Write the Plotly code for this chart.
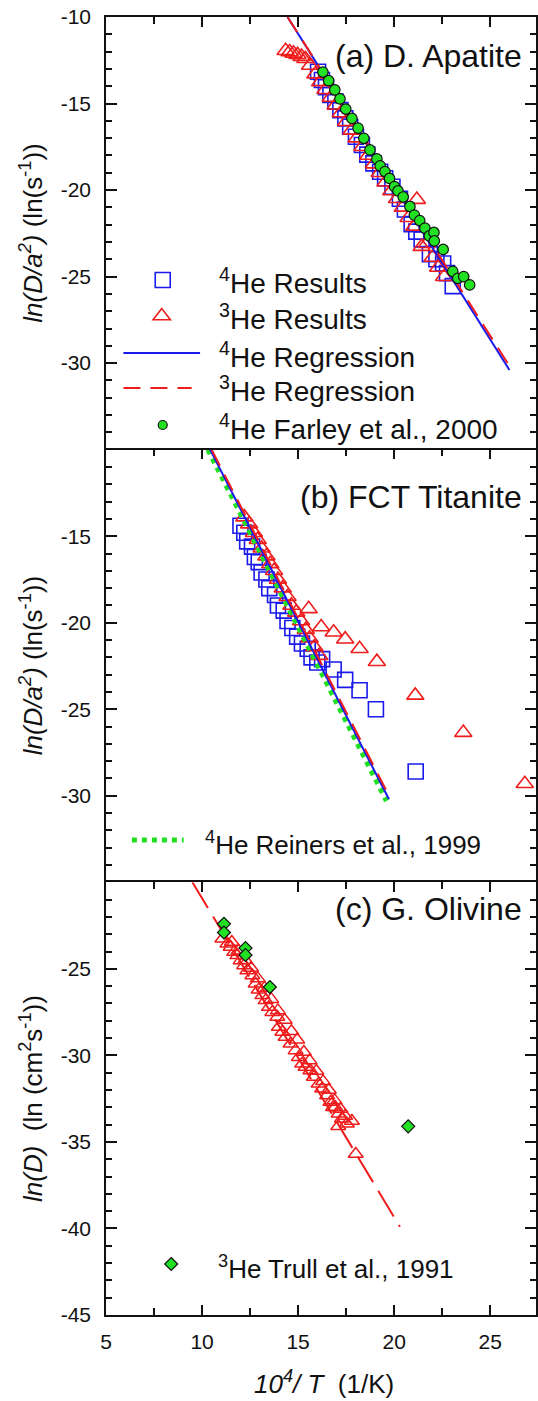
import plotly.graph_objects as go

# ---------------- data ----------------
# (a) Durango apatite
a_he4_x = [16.04, 16.24, 16.45, 16.68, 16.94, 17.20, 17.46, 17.71, 18.01, 18.32, 18.60, 18.92,
           19.27, 19.53, 19.91, 20.30, 20.56, 20.91, 21.15, 21.43, 21.86, 22.20, 22.55, 22.75, 23.05]
a_he4_y = [-13.16, -13.64, -14.05, -14.51, -14.89, -15.38, -15.86, -16.34, -16.92, -17.40, -17.95, -18.46,
           -18.94, -19.32, -19.81, -20.50, -21.12, -21.97, -22.40, -22.85, -23.70, -24.00, -24.24, -24.80, -25.55]
a_he3_x = [14.35, 14.56, 14.76, 14.97, 15.18, 15.38, 15.62, 15.90, 16.15, 16.42, 16.70, 16.95, 17.22,
           17.50, 17.78, 18.05, 18.35, 18.65, 18.95, 19.25, 19.55, 19.85, 20.15, 21.18, 20.45, 20.75,
           21.05, 21.43, 21.70, 22.00, 22.29, 22.60]
a_he3_y = [-11.95, -12.02, -12.10, -12.18, -12.29, -12.41, -12.80, -13.30, -13.75, -14.20, -14.65, -15.10,
           -15.55, -16.05, -16.55, -17.00, -17.50, -18.00, -18.50, -19.00, -19.55, -20.05, -20.50, -20.55,
           -21.00, -21.60, -22.10, -23.27, -23.10, -23.90, -24.47, -25.01]
a_reg4_x = [14.45, 26.00]
a_reg4_y = [-10.0, -30.40]
a_reg3_x = [14.45, 26.05]
a_reg3_y = [-10.0, -30.25]
a_farley_x = [16.29, 16.59, 16.91, 17.18, 17.48, 17.80, 18.12, 18.42, 18.74, 19.10, 19.27, 19.52, 19.76,
              20.02, 20.20, 20.47, 20.82, 21.05, 21.33, 21.60, 21.83, 22.07, 22.09, 22.55, 23.05, 23.31,
              23.62, 23.93]
a_farley_y = [-13.18, -13.68, -14.21, -14.73, -15.32, -15.86, -16.42, -17.01, -17.68, -18.20, -18.60,
              -18.93, -19.33, -19.80, -20.05, -20.40, -20.95, -21.45, -21.76, -22.20, -22.65, -22.45,
              -22.94, -23.43, -24.70, -25.10, -25.00, -25.48]

# (b) FCT titanite
b_he4_x = [12.00, 12.20, 12.35, 12.60, 12.75, 12.95, 13.10, 13.35, 13.50, 13.80, 13.95, 14.25, 14.45,
           14.70, 14.95, 15.20, 15.50, 15.70, 16.00, 16.25, 16.85, 17.45, 18.20, 19.05, 21.12]
b_he4_y = [-14.40, -14.80, -15.30, -15.60, -16.20, -16.50, -17.10, -17.50, -18.00, -18.40, -19.00, -19.30,
           -19.90, -20.30, -20.80, -21.20, -21.50, -22.00, -22.30, -22.10, -22.70, -23.30, -23.90, -25.00,
           -28.60]
b_he3_x = [12.20, 12.45, 12.70, 12.90, 13.10, 13.35, 13.55, 13.75, 13.95, 14.20, 14.45, 14.65, 14.90,
           15.15, 15.40, 15.60, 15.85, 16.10, 15.55, 16.20, 16.85, 17.45, 18.20, 19.10, 21.10, 23.60, 26.80]
b_he3_y = [-13.90, -14.30, -14.80, -15.20, -15.70, -16.15, -16.60, -17.00, -17.50, -18.00, -18.50, -19.00,
           -19.40, -19.90, -20.40, -20.90, -21.40, -21.90, -19.20, -20.25, -20.55, -20.95, -21.50, -22.25,
           -24.20, -26.35, -29.30]
b_reg4_x = [10.42, 19.73]
b_reg4_y = [-10.0, -30.20]
b_reg3_x = [10.50, 19.78]
b_reg3_y = [-10.0, -30.10]
b_reiners_x = [10.30, 19.60]
b_reiners_y = [-10.0, -30.30]

# (c) G. olivine (ln D)
c_he3_x = [11.06, 11.32, 11.49, 11.67, 11.84, 12.01, 12.19, 12.36, 12.62, 12.79, 12.95, 13.14, 13.31,
           13.48, 13.66, 13.92, 14.00, 14.18, 14.35, 14.61, 14.87, 15.04, 15.21, 15.39, 15.64, 15.82,
           16.07, 16.25, 16.51, 16.68, 16.94, 17.11, 17.28, 17.54, 16.82, 17.09, 17.80, 18.00,
           11.55, 11.90, 12.25, 12.55, 12.90, 13.25, 13.60, 13.95, 14.30, 14.65, 14.95, 15.30, 15.60,
           15.95, 16.30, 16.60, 16.90, 17.20, 17.45]
c_he3_y = [-23.26, -23.55, -23.74, -24.03, -24.22, -24.51, -24.80, -25.09, -25.38, -25.86, -26.20, -26.53,
           -26.82, -27.21, -27.50, -27.78, -28.36, -28.65, -28.94, -29.33, -29.71, -30.10, -30.48, -30.67,
           -30.87, -31.25, -31.64, -31.93, -32.31, -32.70, -32.99, -33.37, -33.66, -33.95, -33.00, -34.09,
           -33.79, -35.70,
           -23.45, -23.95, -24.50, -24.95, -25.55, -26.10, -26.75, -27.40, -27.95, -28.60, -29.10, -29.80,
           -30.30, -30.90, -31.50, -32.00, -32.60, -33.10, -33.50]
c_reg3_x = [9.50, 20.30]
c_reg3_y = [-20.0, -39.90]
c_trull_x = [11.14, 11.14, 12.26, 12.26, 13.53, 20.73]
c_trull_y = [-22.40, -22.90, -23.80, -24.20, -26.05, -34.10]

# tick labels
x_ticks = [5, 10, 15, 20, 25]
x_minor = [7.5, 12.5, 17.5, 22.5, 27.5]
ya_ticks = [-35, -30, -25, -20, -15, -10]
ya_text = ["", "-30", "-25", "-20", "-15", "-10"]
yb_ticks = [-35, -30, -25, -20, -15, -10]
yb_text = ["", "-30", "-25", "-20", "-15", ""]
yc_ticks = [-45, -40, -35, -30, -25, -20]
yc_text = ["-45", "-40", "-35", "-30", "-25", ""]

# ---------------- styling ----------------
FONT = "Liberation Sans, Arial, Helvetica, sans-serif"
BLUE = "#1a1aeb"
RED = "#ee1c1c"
GREEN = "#22e022"
BLACK = "#111111"
W, H = 538, 1401
L, R, T, B = 106, 0, 17, 86
PW, PH = W - L - R, H - T - B


def px_x(px):
    return (px - L) / PW


def px_y(py):
    return (H - B - py) / PH


fig = go.Figure()

sq = dict(symbol="square-open", size=15, color=BLUE, line=dict(width=1.6, color=BLUE))
tri = dict(symbol="triangle-up-open", size=15, color=RED, line=dict(width=1.6, color=RED))

# panel a
fig.add_trace(go.Scatter(x=a_he4_x, y=a_he4_y, mode="markers", marker=sq, xaxis="x", yaxis="y"))
fig.add_trace(go.Scatter(x=a_he3_x, y=a_he3_y, mode="markers", marker=tri, xaxis="x", yaxis="y"))
fig.add_trace(go.Scatter(x=a_reg4_x, y=a_reg4_y, mode="lines", line=dict(color=BLUE, width=2),
                         xaxis="x", yaxis="y"))
fig.add_trace(go.Scatter(x=a_reg3_x, y=a_reg3_y, mode="lines",
                         line=dict(color=RED, width=2, dash="18px,10px"), xaxis="x", yaxis="y"))
fig.add_trace(go.Scatter(x=a_farley_x, y=a_farley_y, mode="markers",
                         marker=dict(symbol="circle", size=10.5, color=GREEN, line=dict(width=1.2, color=BLACK)),
                         xaxis="x", yaxis="y"))

# panel b
fig.add_trace(go.Scatter(x=b_he4_x, y=b_he4_y, mode="markers", marker=sq, xaxis="x2", yaxis="y2"))
fig.add_trace(go.Scatter(x=b_he3_x, y=b_he3_y, mode="markers", marker=tri, xaxis="x2", yaxis="y2"))
fig.add_trace(go.Scatter(x=b_reiners_x, y=b_reiners_y, mode="lines",
                         line=dict(color=GREEN, width=5, dash="5px,5px"), xaxis="x2", yaxis="y2"))
fig.add_trace(go.Scatter(x=b_reg4_x, y=b_reg4_y, mode="lines", line=dict(color=BLUE, width=2),
                         xaxis="x2", yaxis="y2"))
fig.add_trace(go.Scatter(x=b_reg3_x, y=b_reg3_y, mode="lines",
                         line=dict(color=RED, width=2, dash="18px,10px"), xaxis="x2", yaxis="y2"))

# panel c
tri_c = dict(symbol="triangle-up-open", size=13, color=RED, line=dict(width=1.5, color=RED))
fig.add_trace(go.Scatter(x=c_he3_x, y=c_he3_y, mode="markers", marker=tri_c, xaxis="x3", yaxis="y3"))
fig.add_trace(go.Scatter(x=c_reg3_x, y=c_reg3_y, mode="lines",
                         line=dict(color=RED, width=2, dash="30px,10px"), xaxis="x3", yaxis="y3"))
fig.add_trace(go.Scatter(x=c_trull_x, y=c_trull_y, mode="markers",
                         marker=dict(symbol="diamond", size=10, color=GREEN, line=dict(width=1.2, color=BLACK)),
                         xaxis="x3", yaxis="y3"))

XR = [5, 5 + PW / 19.3]
tickfont = dict(family=FONT, size=21, color=BLACK)


def xax(anchor, bottom):
    d = dict(anchor=anchor, domain=[0, 1], range=XR, showgrid=False, zeroline=False,
             showline=True, linecolor=BLACK, linewidth=1.6,
             tickmode="array", tickvals=x_ticks, ticks="inside", ticklen=10, tickwidth=1.5,
             tickcolor=BLACK, tickfont=tickfont,
             minor=dict(tickmode="array", tickvals=x_minor, ticks="inside", ticklen=7,
                        tickwidth=1.5, tickcolor=BLACK))
    if bottom:
        d.update(side="bottom", mirror="ticks", showticklabels=True, ticklabelstandoff=7)
    else:
        d.update(side="top", mirror=False, showticklabels=False)
    return d


def yax(anchor, dom, rng, vals, text):
    return dict(anchor=anchor, domain=dom, range=rng, showgrid=False, zeroline=False,
                showline=True, linecolor=BLACK, linewidth=1.6, mirror="ticks",
                tickmode="array", tickvals=vals, ticktext=text, ticks="inside", ticklen=11,
                tickwidth=1.5, tickcolor=BLACK, tickfont=tickfont, ticklabelstandoff=9,
                minor=dict(tickmode="array", tickvals=list(range(rng[0], rng[1] + 1)),
                           ticks="inside", ticklen=6, tickwidth=1.5, tickcolor=BLACK))


fig.update_layout(
    width=W, height=H, margin=dict(l=L, r=R, t=T, b=B),
    paper_bgcolor="white", plot_bgcolor="white", showlegend=False,
    font=dict(family=FONT, color=BLACK),
    xaxis=xax("y", False), xaxis2=xax("y2", False), xaxis3=xax("y3", True),
    yaxis=yax("x", [2 / 3, 1], [-35, -10], ya_ticks, ya_text),
    yaxis2=yax("x2", [1 / 3, 2 / 3], [-35, -10], yb_ticks, yb_text),
    yaxis3=yax("x3", [0, 1 / 3], [-45, -20], yc_ticks, yc_text),
)

ann = []
# panel labels
for txt, py in [("(a) D. Apatite", 56), ("(b) FCT Titanite", 497), ("(c) G. Olivine", 909)]:
    ann.append(dict(text=txt, xref="paper", yref="paper", x=px_x(526), y=px_y(py), xanchor="right",
                    yanchor="middle", showarrow=False, font=dict(family=FONT, size=32, color=BLACK)))
# y titles
for txt, yc in [("<i>ln(D/a<sup>2</sup>)</i> (ln(s<sup>-1</sup>))", 5 / 6),
                ("<i>ln(D/a<sup>2</sup>)</i> (ln(s<sup>-1</sup>))", 0.5),
                ("<i>ln(D)</i>  (ln (cm<sup>2</sup>s<sup>-1</sup>))", 1 / 6)]:
    ann.append(dict(text=txt, xref="paper", yref="paper", x=px_x(31), y=yc, xanchor="center",
                    yanchor="middle", textangle=-90, showarrow=False,
                    font=dict(family=FONT, size=26, color=BLACK)))
# x title
ann.append(dict(text="<i>10<sup>4</sup>/ T</i>  (1/K)", xref="paper", yref="paper", x=px_x(325),
                y=px_y(1382), xanchor="center", yanchor="middle", showarrow=False,
                font=dict(family=FONT, size=26, color=BLACK)))
# legend texts
leg_a = [("<sup>4</sup>He Results", 281), ("<sup>3</sup>He Results", 317),
         ("<sup>4</sup>He Regression", 355), ("<sup>3</sup>He Regression", 389),
         ("<sup>4</sup>He Farley et al., 2000", 427)]
for txt, py in leg_a:
    ann.append(dict(text=txt, xref="paper", yref="paper", x=px_x(218), y=px_y(py), xanchor="left",
                    yanchor="middle", showarrow=False, font=dict(family=FONT, size=28, color=BLACK)))
ann.append(dict(text="<sup>4</sup>He Reiners et al., 1999", xref="paper", yref="paper", x=px_x(203),
                y=px_y(843), xanchor="left", yanchor="middle", showarrow=False,
                font=dict(family=FONT, size=26, color=BLACK)))
ann.append(dict(text="<sup>3</sup>He Trull et al., 1991", xref="paper", yref="paper", x=px_x(217),
                y=px_y(1267), xanchor="left", yanchor="middle", showarrow=False,
                font=dict(family=FONT, size=26, color=BLACK)))
fig.update_layout(annotations=ann)

# legend keys (drawn as shapes in pixel size)
shapes = []


def key_marker(kind, px, py, color, fill="rgba(0,0,0,0)", lc=None, lw=1.6):
    base = dict(xref="paper", yref="paper", xsizemode="pixel", ysizemode="pixel",
                xanchor=px_x(px), yanchor=px_y(py), line=dict(color=lc or color, width=lw),
                fillcolor=fill)
    if kind == "square":
        base.update(type="rect", x0=-7.5, x1=7.5, y0=-7.5, y1=7.5)
    elif kind == "triangle":
        base.update(type="path", path="M-8.66,-3.75 L8.66,-3.75 L0,7.5 Z")
    elif kind == "circle":
        base.update(type="circle", x0=-4.5, x1=4.5, y0=-4.5, y1=4.5)
    elif kind == "diamond":
        base.update(type="path", path="M0,6.5 L6.5,0 L0,-6.5 L-6.5,0 Z")
    shapes.append(base)


key_marker("square", 163, 280, BLUE)
key_marker("triangle", 162, 316, RED)
shapes.append(dict(type="line", xref="paper", yref="paper", x0=px_x(123.5), x1=px_x(200.5),
                   y0=px_y(353), y1=px_y(353), line=dict(color=BLUE, width=2)))
shapes.append(dict(type="line", xref="paper", yref="paper", x0=px_x(123.5), x1=px_x(192),
                   y0=px_y(388), y1=px_y(388), line=dict(color=RED, width=2, dash="17px,10px")))
key_marker("circle", 163, 425, GREEN, fill=GREEN, lc=BLACK, lw=1.2)
shapes.append(dict(type="line", xref="paper", yref="paper", x0=px_x(132), x1=px_x(184),
                   y0=px_y(840), y1=px_y(840), line=dict(color=GREEN, width=5, dash="5px,5px")))
key_marker("diamond", 171.5, 1264, GREEN, fill=GREEN, lc=BLACK, lw=1.2)
fig.update_layout(shapes=shapes)

fig.write_html("out.html")
